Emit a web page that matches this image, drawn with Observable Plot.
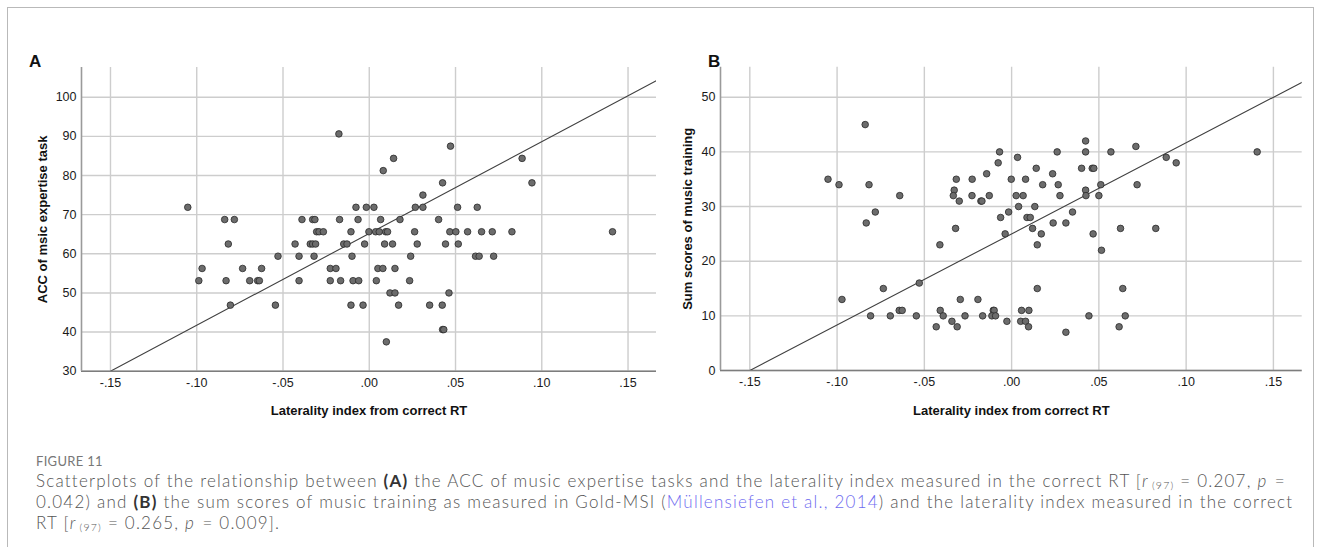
<!DOCTYPE html>
<html><head><meta charset="utf-8">
<script src="https://cdn.jsdelivr.net/npm/d3@7"></script>
<script src="https://cdn.jsdelivr.net/npm/@observablehq/plot@0.6"></script>
<style>
html,body{margin:0;padding:0;background:#fff;}
#page{position:relative;width:1320px;height:547px;overflow:hidden;font-family:"Liberation Sans",Arial,sans-serif;}
#frame{position:absolute;left:7px;top:7px;width:1305px;height:600px;border:1px solid #b9b9b9;}
.plabel{position:absolute;font-weight:bold;font-size:17px;color:#111;line-height:17px;}
#chartA{position:absolute;left:0;top:40px;}
#chartB{position:absolute;left:660px;top:40px;}
.cap{position:absolute;left:36px;white-space:nowrap;font-family:Lato,"Open Sans",sans-serif;font-weight:300;color:#555;line-height:17px;height:17px;}
.cap b{color:#333;font-weight:700;}
.cap a{color:#6f6cf0;text-decoration:none;}
.cap i{margin-right:1.5px;}
.cap sub{font-size:0.62em;vertical-align:-0.2em;line-height:0;margin-left:1.5px;}
#fig{position:absolute;left:36px;top:455px;font-family:Lato,"Open Sans",sans-serif;color:#777;font-size:13px;line-height:13px;letter-spacing:0.3px;}
</style>
</head><body>
<div id="page">
  <div id="frame"></div>
  <div class="plabel" style="left:29px;top:53px;">A</div>
  <div class="plabel" style="left:708px;top:53px;">B</div>
  <div id="chartA"></div>
  <div id="chartB"></div>
  <div id="fig">FIGURE 11</div>
  <div class="cap" id="cap1" style="top:472px;">Scatterplots of the relationship between <b>(A)</b> the ACC of music expertise tasks and the laterality index measured in the correct RT [<i>r</i><sub>(97)</sub> = 0.207, <i>p</i> =</div>
  <div class="cap" id="cap2" style="top:493px;">0.042) and <b>(B)</b> the sum scores of music training as measured in Gold-MSI (<a>Müllensiefen et al., 2014</a>) and the laterality index measured in the correct</div>
  <div class="cap" id="cap3" style="top:514px;">RT [<i>r</i><sub>(97)</sub> = 0.265, <i>p</i> = 0.009].</div>
</div>
<script>
// ---------- data ----------
const xTicks = [-0.15, -0.10, -0.05, 0, 0.05, 0.10, 0.15];
const xTickLabels = ["-.15", "-.10", "-.05", ".00", ".05", ".10", ".15"];
const xDomain = [-0.1668, 0.1665];

const yTicksA = [30, 40, 50, 60, 70, 80, 90, 100];
const yDomainA = [30, 107.6];
const yTicksB = [0, 10, 20, 30, 40, 50];
const yDomainB = [0, 55.5];

const xTitle = "Laterality index from correct RT";
const yTitleA = "ACC of msic expertise task";
const yTitleB = "Sum scores of music training";

// Panel A: laterality index (x) and ACC (y)
const latA = [
  -0.0176,
  0.0471,
  0.0141, 0.0886,
  0.0081,
  0.0425, 0.0943,
  0.0311,
  -0.1052, -0.0077, -0.0017, 0.0027, 0.0267, 0.0311, 0.0512, 0.0626,
  -0.0838, -0.0782, -0.039, -0.0328, -0.0315, -0.0172, -0.0065, 0.0066, 0.0178, 0.0402,
  -0.0305, -0.0291, -0.0266, -0.0106, -0.0002, 0.0037, 0.0058, 0.0095, 0.0106, 0.0263, 0.0467, 0.0502, 0.057, 0.0651, 0.0713, 0.0827, 0.141,
  -0.0817, -0.043, -0.0342, -0.0328, -0.0311, -0.0148, -0.0129, -0.0027, 0.0089, 0.0135, 0.0278, 0.0442, 0.0516,
  -0.0529, -0.0407, -0.032, -0.01, 0.024, 0.0616, 0.0637, 0.0721,
  -0.0969, -0.0734, -0.0624, -0.0226, -0.0193, 0.005, 0.0079, 0.0149,
  -0.0988, -0.083, -0.0693, -0.0647, -0.0637, -0.0407, -0.0226, -0.0166, -0.0094, -0.0061, 0.0041, 0.0234,
  0.012, 0.0149, 0.0462,
  -0.0805, -0.0544, -0.0106, -0.0036, 0.017, 0.035, 0.0423,
  0.0425, 0.0432,
  0.0099
];
const accA = [
  90.63,
  87.5,
  84.38, 84.38,
  81.25,
  78.13, 78.13,
  75,
  71.88, 71.88, 71.88, 71.88, 71.88, 71.88, 71.88, 71.88,
  68.75, 68.75, 68.75, 68.75, 68.75, 68.75, 68.75, 68.75, 68.75, 68.75,
  65.63, 65.63, 65.63, 65.63, 65.63, 65.63, 65.63, 65.63, 65.63, 65.63, 65.63, 65.63, 65.63, 65.63, 65.63, 65.63, 65.63,
  62.5, 62.5, 62.5, 62.5, 62.5, 62.5, 62.5, 62.5, 62.5, 62.5, 62.5, 62.5, 62.5,
  59.38, 59.38, 59.38, 59.38, 59.38, 59.38, 59.38, 59.38,
  56.25, 56.25, 56.25, 56.25, 56.25, 56.25, 56.25, 56.25,
  53.13, 53.13, 53.13, 53.13, 53.13, 53.13, 53.13, 53.13, 53.13, 53.13, 53.13, 53.13,
  50, 50, 50,
  46.88, 46.88, 46.88, 46.88, 46.88, 46.88, 46.88,
  40.63, 40.63,
  37.5
];

// Panel B: laterality index (x) and music training sum score (y)
const latB = [
  -0.0839,
  0.0424,
  0.0712,
  -0.0069, 0.0261, 0.0424, 0.0569, 0.1407,
  0.0034, 0.0886,
  -0.0077, 0.0943,
  0.0141, 0.0401, 0.0462, 0.0471,
  -0.0143, 0.0235,
  -0.1052, -0.0317, -0.0226, -0.0002, 0.008,
  -0.0989, -0.0817, 0.0178, 0.0267, 0.0511, 0.0719,
  -0.0329, 0.0424,
  -0.0641, -0.0334, -0.0227, -0.0128, 0.0026, 0.0066, 0.0277, 0.0426, 0.05,
  -0.03, -0.0176, -0.017,
  0.004, 0.0133,
  -0.0781, -0.0017, 0.0349,
  -0.0063, 0.0088, 0.0107,
  -0.0833, 0.0238, 0.0311,
  -0.0321, 0.012, 0.0624, 0.0826,
  -0.0037, 0.017, 0.0467,
  -0.0411, 0.0147,
  0.0515,
  -0.0529,
  -0.0735, 0.0147, 0.0637,
  -0.0972, -0.0294, -0.0193,
  -0.0644, -0.0627, -0.0409, -0.0105, -0.01, 0.0057, 0.0099,
  -0.0808, -0.0695, -0.0546, -0.0392, -0.0267, -0.0166, -0.0113, -0.0092, 0.0443, 0.0651,
  -0.0342, -0.0027, 0.0052, 0.008,
  -0.0432, -0.0312, 0.0097, 0.0616,
  0.0311
];
const trainB = [
  45,
  42,
  41,
  40, 40, 40, 40, 40,
  39, 39,
  38, 38,
  37, 37, 37, 37,
  36, 36,
  35, 35, 35, 35, 35,
  34, 34, 34, 34, 34, 34,
  33, 33,
  32, 32, 32, 32, 32, 32, 32, 32, 32,
  31, 31, 31,
  30, 30,
  29, 29, 29,
  28, 28, 28,
  27, 27, 27,
  26, 26, 26, 26,
  25, 25, 25,
  23, 23,
  22,
  16,
  15, 15, 15,
  13, 13, 13,
  11, 11, 11, 11, 11, 11, 11,
  10, 10, 10, 10, 10, 10, 10, 10, 10, 10,
  9, 9, 9, 9,
  8, 8, 8, 8,
  7
];

// fit lines (intercept, slope)
const fitA = [65.2, 234.7];
const fitB = [25.0, 166.7];

// ---------- drawing ----------
const fmtX = d => xTickLabels[xTicks.findIndex(t => Math.abs(t - d) < 1e-9)];

function panel(xs, ys, fit, yDomain, yTicks, yTitle, dims) {
  const pts = xs.map((x, i) => ({x, y: ys[i]}));
  const fitPts = xDomain.map(x => ({x, y: fit[0] + fit[1] * x}));
  return Plot.plot({
    width: dims.width, height: dims.height,
    marginLeft: dims.ml, marginRight: dims.mr, marginTop: dims.mt, marginBottom: dims.mb,
    style: {fontFamily: '"Liberation Sans", Arial, sans-serif', fontSize: "12.5px", color: "#1a1a1a", background: "transparent"},
    x: {domain: xDomain, ticks: xTicks, tickFormat: fmtX, label: null},
    y: {domain: yDomain, ticks: yTicks, label: null},
    marks: [
      Plot.gridX(xTicks, {stroke: "#cdcdcd", strokeOpacity: 1, strokeWidth: 1.4}),
      Plot.gridY(yTicks, {stroke: "#cdcdcd", strokeOpacity: 1, strokeWidth: 1.4}),
      Plot.axisX({ticks: xTicks, tickFormat: fmtX, tickSize: 0, tickPadding: 7, label: xTitle, labelArrow: "none", labelAnchor: "center", labelOffset: dims.xlo, fontSize: 12.5}),
      Plot.axisY({ticks: yTicks, tickSize: 0, tickPadding: 5, label: yTitle, labelArrow: "none", labelAnchor: "center", labelOffset: dims.ylo, fontSize: 12.5}),
      Plot.ruleY([yDomain[0]], {stroke: "#7d7d7d", strokeWidth: 1.6}),
      Plot.ruleX([xDomain[0]], {stroke: "#9a9a9a", strokeWidth: 1.6}),
      Plot.line(fitPts, {x: "x", y: "y", stroke: "#404040", strokeWidth: 1.1, clip: true}),
      Plot.dot(pts, {x: "x", y: "y", r: 3.3, fill: "#6c6c6c", stroke: "#2a2a2a", strokeWidth: 0.8})
    ]
  });
}

const svgA = panel(latA, accA, fitA, yDomainA, yTicksA, yTitleA,
  {width: 665, height: 400, ml: 81, mr: 9, mt: 27, mb: 69.3, xlo: 44, ylo: 44});
const svgB = panel(latB, trainB, fitB, yDomainB, yTicksB, yTitleB,
  {width: 655, height: 400, ml: 60, mr: 13.3, mt: 26.7, mb: 70, xlo: 44, ylo: 38});
document.getElementById("chartA").appendChild(svgA);
document.getElementById("chartB").appendChild(svgB);

// bold axis titles, no arrows
for (const svg of [svgA, svgB]) {
  svg.querySelectorAll('g[aria-label="x-axis label"] text, g[aria-label="y-axis label"] text').forEach(t => {
    t.textContent = t.textContent.replace(/\s*[→←↑↓]\s*/g, "").trim();
    t.setAttribute("font-weight", "bold");
    t.setAttribute("font-size", "13");
    t.setAttribute("fill", "#111");
  });
}

// fit caption width to the reference line length (font size fixed, spacing adjusted)
const target = 1250;
const fs = 17;
const c1 = document.getElementById("cap1");
c1.style.fontSize = fs + "px";
c1.style.letterSpacing = "0px";
const w = c1.getBoundingClientRect().width;
const ls = (target - w) / c1.textContent.length;
["cap1", "cap2", "cap3"].forEach(id => {
  const el = document.getElementById(id);
  el.style.fontSize = fs + "px";
  el.style.letterSpacing = ls + "px";
});
</script>
</body></html>
